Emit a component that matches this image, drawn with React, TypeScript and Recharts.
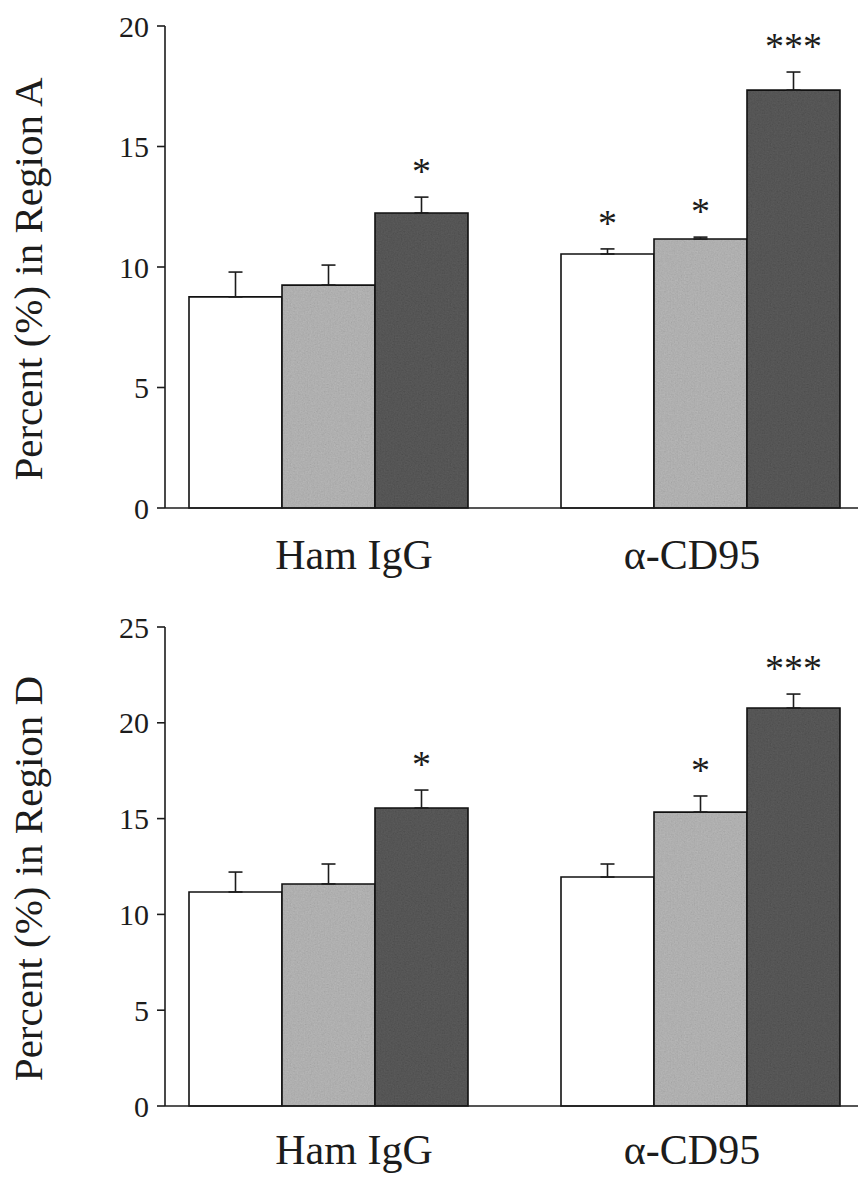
import React from 'react';
import { BarChart, Bar, XAxis, YAxis, ErrorBar, LabelList } from 'recharts';

const categories = ['Ham IgG', 'α-CD95'];

// Region A (top panel)
const regionA1 = [8.76, 10.54];
const regionA2 = [9.25, 11.16];
const regionA3 = [12.24, 17.34];
const regionAErr1 = [1.03, 0.21];
const regionAErr2 = [0.83, 0.08];
const regionAErr3 = [0.66, 0.75];
const regionASig1 = ['', '*'];
const regionASig2 = ['', '*'];
const regionASig3 = ['*', '***'];
const regionATicks = [0, 5, 10, 15, 20];

// Region D (bottom panel)
const regionD1 = [11.17, 11.95];
const regionD2 = [11.59, 15.34];
const regionD3 = [15.55, 20.77];
const regionDErr1 = [1.04, 0.68];
const regionDErr2 = [1.04, 0.84];
const regionDErr3 = [0.94, 0.73];
const regionDSig1 = ['', ''];
const regionDSig2 = ['', '*'];
const regionDSig3 = ['*', '***'];
const regionDTicks = [0, 5, 10, 15, 20, 25];

const FONT = '"Liberation Serif", "Times New Roman", Times, serif';
const INK = '#1c1c1c';
const LABEL_SHIFT = [25, -9];

function buildRows(v1: number[], v2: number[], v3: number[], e1: number[], e2: number[], e3: number[], s1: string[], s2: string[], s3: string[]) {
  return categories.map((c, i) => ({
    name: c,
    a: v1[i], b: v2[i], c: v3[i],
    ea: [0, e1[i]], eb: [0, e2[i]], ec: [0, e3[i]],
    sa: s1[i], sb: s2[i], sc: s3[i],
  }));
}

const makeStar = (values: number[], errs: number[], sigs: string[]) => (props: any) => {
  const { x, y, width, height, index } = props;
  const s = sigs[index];
  if (!s) return null;
  const v = values[index];
  const h = Number(height);
  const pxPerUnit = h / v;
  const errTop = Number(y) - errs[index] * pxPerUnit;
  const cy = errTop - 31;
  return (
    <text x={Number(x) + Number(width) / 2} y={cy + 18} textAnchor="middle" fontSize={38} fontFamily={FONT} fill={INK}>
      {s}
    </text>
  );
};

const YLabel = (text: string) => (props: any) => {
  const vb = props.viewBox || {};
  const cy = (vb.y !== undefined ? vb.y + vb.height / 2 : 267) + 12;
  const cx = 28;
  return (
    <text x={cx} y={cy} transform={`rotate(-90, ${cx}, ${cy})`} textAnchor="middle" dominantBaseline="central" fontSize={41} fontFamily={FONT} fill={INK}>
      {text}
    </text>
  );
};

const XTick = (props: any) => {
  const { x, y, payload, index } = props;
  const shift = LABEL_SHIFT[index] ?? 0;
  return (
    <text x={Number(x) + shift} y={Number(y)} dy="0.71em" textAnchor="middle" fontSize={42} fontFamily={FONT} fill={INK}>
      {payload.value}
    </text>
  );
};

type PanelProps = {
  id: string;
  top: number;
  height: number;
  marginTop: number;
  marginBottom: number;
  xAxisHeight: number;
  xTickMargin: number;
  ticks: number[];
  label: string;
  v: number[][];
  e: number[][];
  s: string[][];
};

function Panel(p: PanelProps) {
  const data = buildRows(p.v[0], p.v[1], p.v[2], p.e[0], p.e[1], p.e[2], p.s[0], p.s[1], p.s[2]);
  const fills = ['#ffffff', `url(#${p.id}-light)`, `url(#${p.id}-dark)`];
  const keys = ['a', 'b', 'c'];
  const errKeys = ['ea', 'eb', 'ec'];
  return (
    <div style={{ position: 'absolute', left: 0, top: p.top }}>
      <BarChart
        width={858}
        height={p.height}
        data={data}
        margin={{ top: p.marginTop, right: 0, bottom: p.marginBottom, left: 0 }}
        barCategoryGap={46}
        barGap={0}
      >
        <defs>
          <filter id={`${p.id}-noise`} x="0" y="0" width="100%" height="100%">
            <feTurbulence type="fractalNoise" baseFrequency="0.7" numOctaves="2" seed="3" stitchTiles="stitch" />
            <feColorMatrix type="matrix" values="0.33 0.33 0.33 0 0  0.33 0.33 0.33 0 0  0.33 0.33 0.33 0 0  0 0 0 0 1" />
          </filter>
          <pattern id={`${p.id}-light`} patternUnits="userSpaceOnUse" width="160" height="160">
            <rect width="160" height="160" fill="#acacac" />
            <rect width="160" height="160" filter={`url(#${p.id}-noise)`} opacity="0.22" />
          </pattern>
          <pattern id={`${p.id}-dark`} patternUnits="userSpaceOnUse" width="160" height="160">
            <rect width="160" height="160" fill="#3e3e3e" />
            <rect width="160" height="160" filter={`url(#${p.id}-noise)`} opacity="0.18" />
          </pattern>
        </defs>
        <XAxis
          dataKey="name"
          padding={{ left: -22, right: -29 }}
          tickLine={false}
          tickSize={0}
          tickMargin={p.xTickMargin}
          height={p.xAxisHeight}
          axisLine={{ stroke: INK, strokeWidth: 1.6 }}
          tick={<XTick />}
          interval={0}
        />
        <YAxis
          width={165}
          domain={[0, p.ticks[p.ticks.length - 1]]}
          ticks={p.ticks}
          interval={0}
          tickSize={8}
          tickMargin={8}
          axisLine={{ stroke: INK, strokeWidth: 1.6 }}
          tickLine={{ stroke: INK, strokeWidth: 1.6 }}
          tick={{ fontSize: 30, fontFamily: FONT, fill: INK }}
          label={{ content: YLabel(p.label) } as any}
        />
        {keys.map((k, i) => (
          <Bar key={k} dataKey={k} fill={fills[i]} stroke="#111" strokeWidth={1.6} isAnimationActive={false}>
            <ErrorBar dataKey={errKeys[i]} direction="y" width={7} stroke={INK} strokeWidth={1.6} />
            <LabelList dataKey={['sa', 'sb', 'sc'][i]} content={makeStar(p.v[i], p.e[i], p.s[i])} />
          </Bar>
        ))}
      </BarChart>
    </div>
  );
}

export default function App() {
  return (
    <div style={{ position: 'absolute', left: 0, top: 0, width: 858, height: 1177, background: '#fff', overflow: 'hidden' }}>
      <Panel
        id="pa"
        top={0}
        height={600}
        marginTop={26}
        marginBottom={22}
        xAxisHeight={70}
        xTickMargin={31}
        ticks={regionATicks}
        label="Percent (%) in Region A"
        v={[regionA1, regionA2, regionA3]}
        e={[regionAErr1, regionAErr2, regionAErr3]}
        s={[regionASig1, regionASig2, regionASig3]}
      />
      <Panel
        id="pd"
        top={600}
        height={577}
        marginTop={27}
        marginBottom={1}
        xAxisHeight={70}
        xTickMargin={28}
        ticks={regionDTicks}
        label="Percent (%) in Region D"
        v={[regionD1, regionD2, regionD3]}
        e={[regionDErr1, regionDErr2, regionDErr3]}
        s={[regionDSig1, regionDSig2, regionDSig3]}
      />
    </div>
  );
}
